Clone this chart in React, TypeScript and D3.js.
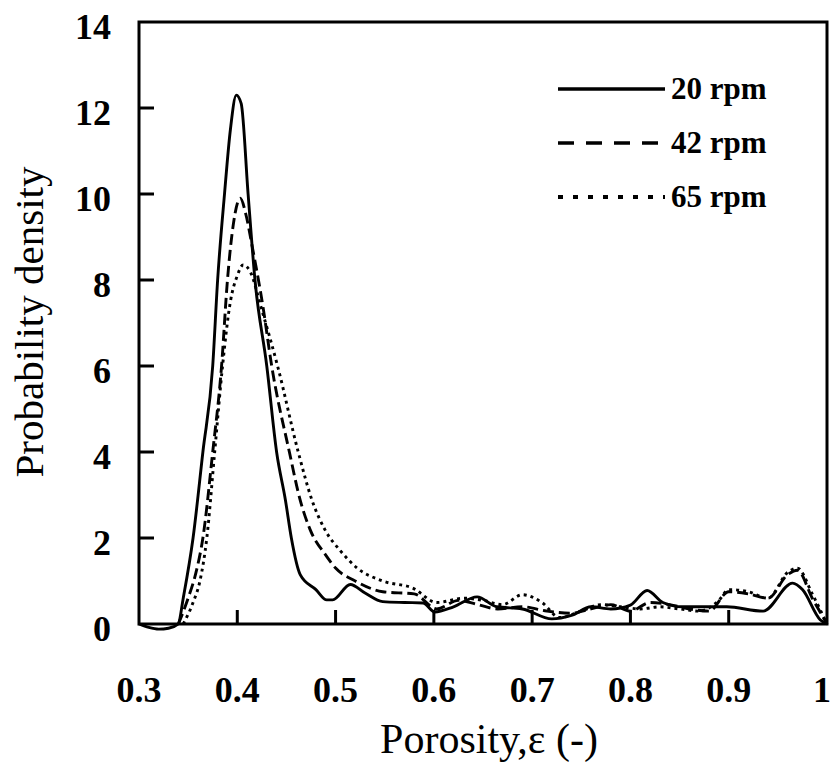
import React from "react";
import * as d3 from "d3";

const xTicks = [0.3, 0.4, 0.5, 0.6, 0.7, 0.8, 0.9, 1];
const yTicks = [0, 2, 4, 6, 8, 10, 12, 14];
const seriesNames = ["20 rpm", "42 rpm", "65 rpm"];

const rpm20X = [0.3, 0.31, 0.32, 0.33, 0.34, 0.345, 0.355, 0.365, 0.375, 0.38, 0.387, 0.393, 0.399, 0.404, 0.411, 0.418, 0.43, 0.44, 0.449, 0.455, 0.464, 0.48, 0.491, 0.497, 0.515, 0.53, 0.548, 0.57, 0.589, 0.601, 0.62, 0.644, 0.664, 0.69, 0.72, 0.74, 0.76, 0.78, 0.8, 0.817, 0.833, 0.853, 0.898, 0.935, 0.965, 0.975, 0.993, 1.0];
const rpm20Y = [0.0, -0.08, -0.12, -0.1, 0.0, 0.6, 2.0, 4.0, 6.0, 8.0, 10.0, 11.5, 12.3, 12.1, 10.0, 8.0, 6.0, 4.0, 2.88, 2.0, 1.15, 0.8, 0.56, 0.56, 0.92, 0.72, 0.52, 0.5, 0.49, 0.28, 0.4, 0.63, 0.4, 0.35, 0.12, 0.2, 0.4, 0.35, 0.44, 0.78, 0.5, 0.4, 0.4, 0.3, 0.95, 0.8, 0.1, 0.0];

const rpm42X = [0.34, 0.35, 0.358, 0.365, 0.375, 0.384, 0.39, 0.396, 0.403, 0.409, 0.415, 0.426, 0.435, 0.453, 0.464, 0.474, 0.49, 0.5, 0.52, 0.548, 0.58, 0.603, 0.625, 0.645, 0.665, 0.69, 0.715, 0.74, 0.76, 0.78, 0.8, 0.82, 0.84, 0.86, 0.88, 0.9, 0.92, 0.94, 0.96, 0.97, 0.985, 1.0];
const rpm42Y = [0.0, 0.6, 1.2, 2.0, 4.0, 6.0, 8.0, 9.3, 9.9, 9.5, 8.8, 7.4, 6.0, 4.0, 2.88, 2.2, 1.6, 1.3, 1.0, 0.75, 0.7, 0.35, 0.55, 0.45, 0.35, 0.4, 0.3, 0.25, 0.35, 0.45, 0.3, 0.5, 0.45, 0.35, 0.3, 0.75, 0.7, 0.6, 1.15, 1.25, 0.6, 0.0];

const rpm65X = [0.345, 0.355, 0.362, 0.369, 0.377, 0.385, 0.393, 0.4, 0.406, 0.413, 0.425, 0.441, 0.462, 0.476, 0.489, 0.505, 0.522, 0.548, 0.579, 0.603, 0.63, 0.65, 0.67, 0.69, 0.71, 0.728, 0.75, 0.77, 0.79, 0.81, 0.83, 0.85, 0.87, 0.89, 0.9, 0.92, 0.94, 0.96, 0.97, 0.985, 1.0];
const rpm65Y = [0.0, 0.5, 1.0, 2.0, 4.0, 6.0, 7.5, 8.1, 8.35, 8.2, 7.3, 6.0, 4.0, 2.88, 2.2, 1.7, 1.3, 1.0, 0.83, 0.5, 0.6, 0.55, 0.45, 0.68, 0.5, 0.15, 0.3, 0.45, 0.4, 0.35, 0.4, 0.35, 0.3, 0.55, 0.8, 0.75, 0.6, 1.2, 1.3, 0.7, 0.0];

const W = 833;
const H = 765;
const left = 139;
const right = 827;
const top = 22;
const bottom = 624;

export default function App() {
  const x = d3.scaleLinear().domain([0.3, 1]).range([left, right]);
  const y = d3.scaleLinear().domain([0, 14]).range([bottom, top]);
  const line = d3
    .line<[number, number]>()
    .x((d) => x(d[0]))
    .y((d) => y(d[1]))
    .curve(d3.curveMonotoneX);

  const series = [
    { name: seriesNames[0], xs: rpm20X, ys: rpm20Y, dash: "none", lDash: "none" },
    { name: seriesNames[1], xs: rpm42X, ys: rpm42Y, dash: "11,5", lDash: "16,12" },
    { name: seriesNames[2], xs: rpm65X, ys: rpm65Y, dash: "3,4", lDash: "5,10" },
  ];

  const serif = "'Liberation Serif', 'Times New Roman', serif";

  return (
    <svg
      width={W}
      height={H}
      style={{ position: "absolute", left: 0, top: 0, background: "#fff" }}
    >
      <rect x={0} y={0} width={W} height={H} fill="#fff" />
      {series.map((s) => (
        <path
          key={s.name}
          d={line(s.xs.map((v, i) => [v, s.ys[i]] as [number, number])) || ""}
          fill="none"
          stroke="#000"
          strokeWidth={2.9}
          strokeDasharray={s.dash}
          strokeLinejoin="round"
        />
      ))}
      <rect
        x={left}
        y={top}
        width={right - left}
        height={bottom - top}
        fill="none"
        stroke="#000"
        strokeWidth={3}
      />
      {yTicks.map((t) => (
        <g key={"y" + t}>
          {t > 0 && t < 14 && (
            <line x1={left} x2={left + 15} y1={y(t)} y2={y(t)} stroke="#000" strokeWidth={3} />
          )}
          <text
            x={111}
            y={y(t) + 17}
            textAnchor="end"
            fontFamily={serif}
            fontWeight="bold"
            fontSize={36}
            fill="#000"
          >
            {t}
          </text>
        </g>
      ))}
      {xTicks.map((t) => (
        <g key={"x" + t}>
          {t > 0.3 && t < 1 && (
            <line x1={x(t)} x2={x(t)} y1={bottom} y2={bottom - 14} stroke="#000" strokeWidth={3} />
          )}
          <text
            x={t === 1 ? x(t) - 5 : x(t)}
            y={702}
            textAnchor="middle"
            fontFamily={serif}
            fontWeight="bold"
            fontSize={36}
            fill="#000"
          >
            {t}
          </text>
        </g>
      ))}
      <text
        x={489}
        y={753}
        textAnchor="middle"
        fontFamily={serif}
        fontSize={42}
        fill="#000"
      >
        Porosity,ε (-)
      </text>
      <text
        transform={`translate(43,322) rotate(-90)`}
        textAnchor="middle"
        fontFamily={serif}
        fontSize={41}
        fill="#000"
      >
        Probability density
      </text>
      {series.map((s, i) => {
        const ly = 89 + i * 54;
        return (
          <g key={"lg" + s.name}>
            <line
              x1={558}
              x2={665}
              y1={ly}
              y2={ly}
              stroke="#000"
              strokeWidth={i === 2 ? 4 : 3.5}
              strokeDasharray={s.lDash}
            />
            <text
              x={671}
              y={ly + 10}
              fontFamily={serif}
              fontWeight="bold"
              fontSize={31}
              fill="#000"
            >
              {s.name}
            </text>
          </g>
        );
      })}
    </svg>
  );
}
